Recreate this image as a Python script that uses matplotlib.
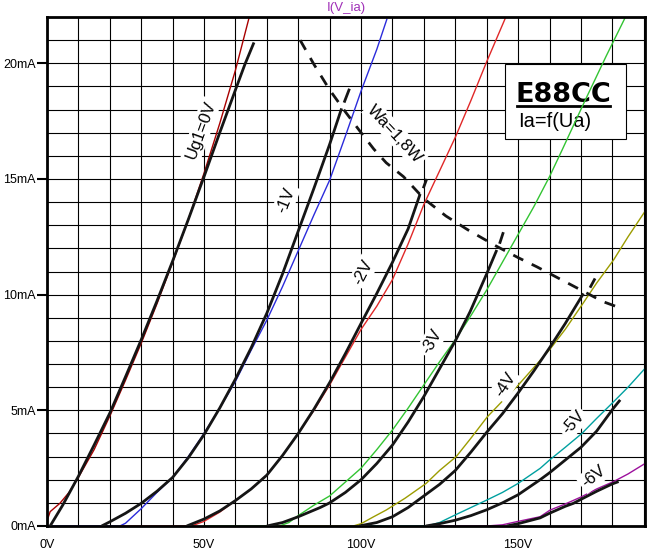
import matplotlib

matplotlib.use("Agg")
import matplotlib.pyplot as plt
from matplotlib.lines import Line2D
from matplotlib.patches import Rectangle
from matplotlib.ticker import FuncFormatter, MultipleLocator

# simulated curves I(V_ia), thin coloured traces (Ua in V, Ia in mA)
sim_0v_ua = [0, 0.2, 1.0, 4.1, 7, 10, 15, 20, 25, 30, 35, 40, 45, 50, 55, 60, 64.4]
sim_0v_ia = [0, 0.3, 0.62, 0.98, 1.45, 2.1, 3.3, 4.75, 6.3, 7.9, 9.6, 11.4, 13.25, 15.25,
             17.4, 19.7, 22]
sim_1v_ua = [0, 23.2, 25, 30, 35, 40, 45, 50, 55, 60, 65, 70, 75, 80, 85, 90, 95, 100, 105, 108.2]
sim_1v_ia = [0, 0, 0.12, 0.75, 1.45, 2.1, 3.0, 4.0, 5.1, 6.25, 7.6, 8.9, 10.35, 11.9, 13.45,
             14.95, 16.85, 18.8, 20.6, 21.9]
sim_2v_ua = [23.5, 46, 50, 55, 60, 65, 70, 75, 80, 85, 90, 95, 100, 105, 110, 115, 120, 125,
             130, 135, 140, 145.9]
sim_2v_ia = [0, 0, 0.2, 0.6, 1.1, 1.6, 2.2, 3.05, 4.0, 5.0, 6.1, 7.3, 8.5, 9.5, 10.65, 12.2,
             13.9, 15.35, 16.8, 18.4, 20.07, 21.94]
sim_3v_ua = [50, 74, 77, 80, 85, 90, 95, 100, 105, 110, 115, 120, 125, 130, 135, 140, 145, 150,
             155, 160, 164, 171, 178, 184]
sim_3v_ia = [0, 0, 0.15, 0.45, 0.9, 1.3, 1.9, 2.5, 3.3, 4.15, 5.1, 6.1, 7.1, 8.05, 9.1, 10.2,
             11.4, 12.6, 13.8, 15.1, 16.25, 18.3, 20.3, 21.95]
sim_4v_ua = [74, 97.5, 100, 104, 108, 114, 120.7, 125, 130.3, 135, 140.2, 145, 150.1, 155, 160.2,
             165, 170.3, 175, 180.4, 185, 190.4]
sim_4v_ia = [0, 0, 0.1, 0.4, 0.69, 1.2, 1.84, 2.4, 3.0, 3.8, 4.72, 5.4, 6.1, 6.85, 7.65,
             8.5, 9.55, 10.5, 11.5, 12.5, 13.6]
sim_5v_ua = [100, 121, 125, 130, 135, 140, 145, 150, 157, 160, 165, 170.3, 175, 180.4, 185, 190.4]
sim_5v_ia = [0, 0, 0.15, 0.48, 0.8, 1.12, 1.45, 1.84, 2.49, 2.85, 3.4, 4.0, 4.65, 5.37, 6.0, 6.81]
sim_6v_ua = [122.6, 140, 145, 150, 157, 160.2, 165, 170.3, 175, 180.4, 185, 190.4]
sim_6v_ia = [0, 0, 0.05, 0.2, 0.4, 0.69, 0.95, 1.27, 1.6, 1.92, 2.25, 2.7]

# measured curves, thick black
meas_0v_ua = [1.0, 5, 10, 15, 20, 25, 30, 35, 40, 45, 50, 55, 60, 63, 65.9]
meas_0v_ia = [0, 0.9, 2.15, 3.5, 4.88, 6.45, 8.05, 9.72, 11.45, 13.25, 15.1, 17.0, 18.85,
              19.95, 20.9]
meas_1v_ua = [17.4, 20, 25, 30, 35, 40, 45, 50, 55, 60, 65, 70, 75, 80, 85, 90, 93.8]
meas_1v_ia = [0, 0.18, 0.55, 0.98, 1.5, 2.1, 2.95, 3.95, 5.1, 6.35, 7.7, 9.2, 10.9, 12.75,
              14.6, 16.5, 18.05]
meas_2v_ua = [44.5, 50, 55, 60, 65, 70, 75, 80, 85, 90, 95, 100, 105, 110, 115, 118.8]
meas_2v_ia = [0, 0.3, 0.65, 1.1, 1.6, 2.2, 3.05, 4.0, 5.05, 6.2, 7.45, 8.76, 10.05, 11.4,
              12.85, 14.35]
meas_3v_ua = [70, 75, 80, 87, 90, 95, 100, 105, 110, 115, 120, 125, 130, 134.7, 140, 143.2]
meas_3v_ia = [0, 0.15, 0.4, 0.8, 1.0, 1.45, 2.0, 2.7, 3.5, 4.5, 5.6, 6.8, 8.0, 9.26, 10.9, 11.93]
meas_4v_ua = [99.4, 105, 110, 115, 120, 125, 130, 135, 140, 145, 150, 155, 160, 165, 170.8]
meas_4v_ia = [0, 0.15, 0.4, 0.8, 1.3, 1.8, 2.4, 3.2, 4.05, 4.85, 5.75, 6.7, 7.7, 8.75, 10.05]
meas_5v_ua = [120.6, 125, 130, 135, 140, 145, 150, 157, 160, 165, 170, 175, 180.4, 182.5]
meas_5v_ia = [0, 0.1, 0.25, 0.45, 0.7, 1.0, 1.35, 2.0, 2.3, 2.85, 3.4, 4.1, 5.1, 5.45]
meas_6v_ua = [146.4, 150, 157, 160, 165, 167.6, 170, 175, 180, 182]
meas_6v_ia = [0, 0.1, 0.35, 0.55, 0.85, 0.98, 1.15, 1.5, 1.82, 1.92]

# short dash continuing each measured curve past the power limit
ext_ua = [[94.6, 96.3], [119.8, 120.9], [144.1, 145.3], [172.9, 174.5]]
ext_ia = [[18.3, 18.9], [14.6, 15.0], [12.2, 12.7], [10.3, 10.7]]

# Wa = 1,8W limit (dashed)
wa_ua = [80.6, 85, 90, 95, 100, 104, 108, 113.5, 120, 127, 134, 143, 150, 156, 163, 170, 177, 181]
wa_ia = [21.0, 19.95, 18.85, 17.9, 17.0, 16.3, 15.7, 15.1, 14.15, 13.4, 12.8, 12.1, 11.6, 11.2,
         10.7, 10.2, 9.7, 9.5]

sim_colors = ["#a80000", "#2b2bdb", "#e02828", "#33c433", "#9c9c00", "#00a0a0", "#9c109c"]

labels = ["Ug1=0V", "-1V", "Wa=1,8W", "-2V", "-3V", "-4V", "-5V", "-6V"]
label_ua = [49.0, 76.1, 110.8, 100.8, 122.5, 145.9, 167.6, 174.0]
label_ia = [17.11, 14.09, 16.94, 10.98, 7.97, 6.09, 4.46, 2.13]
label_rot = [70, 68, -47, 63, 60, 57, 48, 38]

plt.rcParams["font.family"] = ["Liberation Sans", "DejaVu Sans"]

fig = plt.figure(figsize=(6.53, 5.51), dpi=100)
ax = fig.add_axes([47 / 653, 25 / 551, 598 / 653, 509 / 551])
ax.set_xlim(0, 190.4)
ax.set_ylim(0, 22)

ax.xaxis.set_major_locator(MultipleLocator(50))
ax.xaxis.set_minor_locator(MultipleLocator(10))
ax.yaxis.set_major_locator(MultipleLocator(5))
ax.yaxis.set_minor_locator(MultipleLocator(1))
ax.xaxis.set_major_formatter(FuncFormatter(lambda v, p: f"{v:.0f}V"))
ax.yaxis.set_major_formatter(FuncFormatter(lambda v, p: f"{v:.0f}mA"))
ax.grid(which="both", color="black", lw=0.8, zorder=0.5)
ax.set_axisbelow(True)
ax.tick_params(axis="x", which="both", length=0, pad=9, labelsize=9)
ax.tick_params(axis="y", which="major", length=7, width=1.5, pad=1, labelsize=9)
ax.tick_params(axis="y", which="minor", length=0)
for sp in ax.spines.values():
    sp.set_linewidth(2.0)

# type box
ax.add_patch(Rectangle((0.766, 0.760), 0.203, 0.147, transform=ax.transAxes,
                       fc="white", ec="black", lw=0.8, zorder=1))
ax.text(0.863, 0.8336, "E88CC", transform=ax.transAxes, ha="center", va="baseline",
        fontsize=19.5, fontweight="bold", family="DejaVu Sans", zorder=1.2)
ax.add_line(Line2D([0.7855, 0.9415], [0.8257, 0.8257], transform=ax.transAxes,
                   color="black", lw=2.0, zorder=1.2))
ax.text(0.7876, 0.7947, "Ia=f(Ua)", transform=ax.transAxes, ha="left", va="center",
        fontsize=14.5, zorder=1.2)

sims = [(sim_0v_ua, sim_0v_ia), (sim_1v_ua, sim_1v_ia), (sim_2v_ua, sim_2v_ia),
        (sim_3v_ua, sim_3v_ia), (sim_4v_ua, sim_4v_ia), (sim_5v_ua, sim_5v_ia),
        (sim_6v_ua, sim_6v_ia)]
meas = [(meas_0v_ua, meas_0v_ia), (meas_1v_ua, meas_1v_ia), (meas_2v_ua, meas_2v_ia),
        (meas_3v_ua, meas_3v_ia), (meas_4v_ua, meas_4v_ia), (meas_5v_ua, meas_5v_ia),
        (meas_6v_ua, meas_6v_ia)]

for (ua, ia), col in zip(sims, sim_colors):
    ax.plot(ua, ia, color=col, lw=1.0, zorder=2)
for ua, ia in meas:
    ax.plot(ua, ia, color="#151515", lw=2.0, zorder=3, solid_capstyle="butt")
for ua, ia in zip(ext_ua, ext_ia):
    ax.plot(ua, ia, color="#151515", lw=2.0, zorder=3, solid_capstyle="butt")
ax.plot(wa_ua, wa_ia, color="#151515", lw=2.0, dashes=(4, 3.4), zorder=3)

for s, x, y, r in zip(labels, label_ua, label_ia, label_rot):
    ax.text(x, y, s, rotation=r, rotation_mode="anchor", ha="center", va="center",
            fontsize=12, zorder=6,
            bbox=dict(boxstyle="square,pad=0.15", fc="white", ec="none"))

ax.set_title("I(V_ia)", color="#a030b8", fontsize=9.5, pad=4)

fig.savefig("out.png", dpi=100)
